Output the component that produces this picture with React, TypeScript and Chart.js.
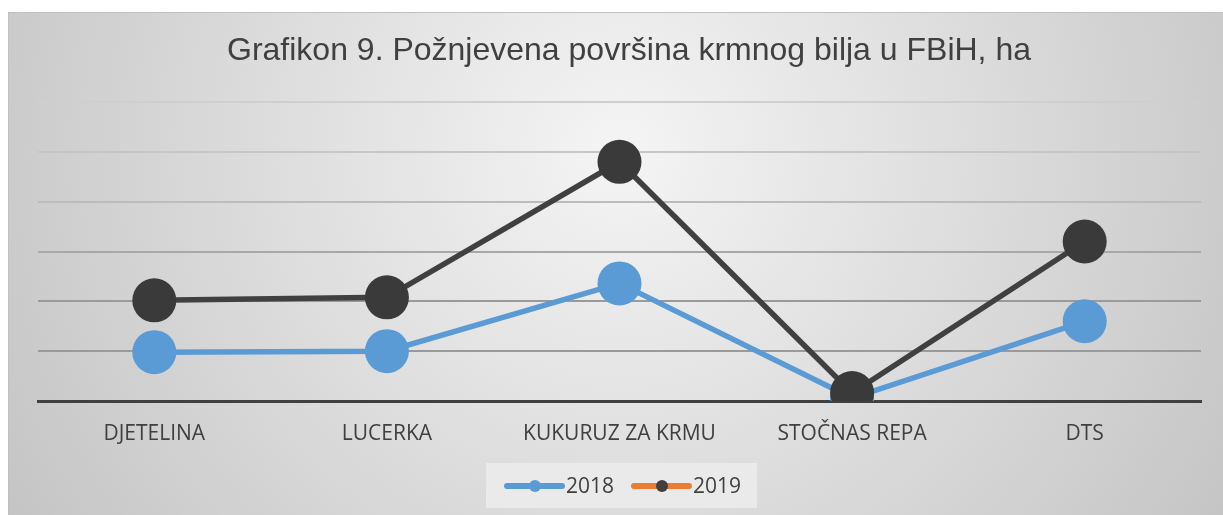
import React, { useEffect, useRef } from "react";
import { Chart, registerables } from "chart.js";

Chart.register(...registerables);

const title = "Grafikon 9. Požnjevena površina krmnog bilja u FBiH, ha";
const categories = ["DJETELINA", "LUCERKA", "KUKURUZ ZA KRMU", "STOČNAS REPA", "DTS"];
const series2018 = [4900, 5000, 11800, 300, 8000];
const series2019 = [10100, 10400, 24000, 800, 16000];
const yMax = 30000;
const yStep = 5000;

const gridColors = ["#9a9a9a", "#9a9a9a", "#9a9a9a", "#a8a8a8", "#bcbcbc", "#c6c6c6", "#cfcfcf"];

export default function App() {
  const ref = useRef<HTMLCanvasElement | null>(null);

  useEffect(() => {
    document.body.style.margin = "0";
    const canvas = ref.current;
    if (!canvas) return;

    const bgPlugin = {
      id: "bg",
      beforeDraw(chart: any) {
        const ctx = chart.ctx;
        ctx.save();
        const g = ctx.createRadialGradient(620, 150, 20, 620, 150, 720);
        g.addColorStop(0, "#f3f3f3");
        g.addColorStop(1, "#c4c4c4");
        ctx.fillStyle = "#ffffff";
        ctx.fillRect(0, 0, chart.width, chart.height);
        ctx.fillStyle = g;
        ctx.fillRect(8, 12, chart.width - 8, chart.height - 12);
        ctx.strokeStyle = "#c0c0c0";
        ctx.lineWidth = 1;
        ctx.strokeRect(8.5, 12.5, chart.width, chart.height);
        ctx.fillStyle = "#404040";
        ctx.font = "32px 'Liberation Sans', Arial, sans-serif";
        ctx.textAlign = "center";
        ctx.textBaseline = "middle";
        ctx.fillText(title, 629, 51);
        ctx.restore();
      },
      afterDraw(chart: any) {
        const ctx = chart.ctx;
        ctx.save();
        ctx.fillStyle = "rgba(235,235,235,0.9)";
        ctx.fillRect(486, 463, 271, 45);
        const items = [
          { label: chart.data.datasets[0].label, line: "#5b9bd5", dot: "#5b9bd5", x: 507 },
          { label: chart.data.datasets[1].label, line: "#ed7d31", dot: "#404040", x: 634 },
        ];
        const cy = 486;
        items.forEach((it) => {
          ctx.strokeStyle = it.line;
          ctx.lineWidth = 6;
          ctx.lineCap = "round";
          ctx.beginPath();
          ctx.moveTo(it.x, cy);
          ctx.lineTo(it.x + 55, cy);
          ctx.stroke();
          ctx.fillStyle = it.dot;
          ctx.beginPath();
          ctx.arc(it.x + 28, cy, 6, 0, Math.PI * 2);
          ctx.fill();
          ctx.fillStyle = "#404040";
          ctx.font = "21px 'Open Sans', sans-serif";
          ctx.textAlign = "left";
          ctx.textBaseline = "middle";
          ctx.fillText(it.label, it.x + 59, cy + 1);
        });
        ctx.restore();
      },
    };

    const chart = new Chart(canvas, {
      type: "line",
      data: {
        labels: categories,
        datasets: [
          {
            label: "2018",
            data: series2018,
            order: 2,
            borderColor: "#5b9bd5",
            backgroundColor: "#5b9bd5",
            pointBackgroundColor: "#5b9bd5",
            pointBorderColor: "#5b9bd5",
            borderWidth: 5.5,
            pointRadius: 22,
            pointBorderWidth: 0,
            tension: 0,
          },
          {
            label: "2019",
            data: series2019,
            order: 1,
            borderColor: "#404040",
            backgroundColor: "#404040",
            pointBackgroundColor: "#3a3a3a",
            pointBorderColor: "#3a3a3a",
            borderWidth: 5.5,
            pointRadius: 22,
            pointBorderWidth: 0,
            tension: 0,
          },
        ],
      },
      options: {
        responsive: false,
        animation: false,
        layout: { padding: { left: 38, right: 19, top: 102, bottom: 0 } },
        plugins: {
          legend: { display: false },
          title: { display: false },
          tooltip: { enabled: false },
        },
        scales: {
          x: {
            offset: true,
            grid: { display: false, drawTicks: false },
            border: { display: true, color: "#404040", width: 3 },
            ticks: {
              color: "#404040",
              font: { family: "'Open Sans', sans-serif", size: 21 },
              padding: 20,
              maxRotation: 0,
            },
            afterFit(scale: any) {
              scale.height = 114;
            },
          },
          y: {
            min: 0,
            max: yMax,
            ticks: { display: false, stepSize: yStep },
            border: { display: false },
            grid: {
              drawTicks: false,
              lineWidth: 2,
              color: (c: any) => gridColors[c.index] ?? "#c6c6c6",
            },
            afterFit(scale: any) {
              scale.width = 0;
            },
          },
        },
      },
      plugins: [bgPlugin],
    });

    return () => chart.destroy();
  }, []);

  return <canvas ref={ref} width={1223} height={515} style={{ display: "block" }} />;
}
